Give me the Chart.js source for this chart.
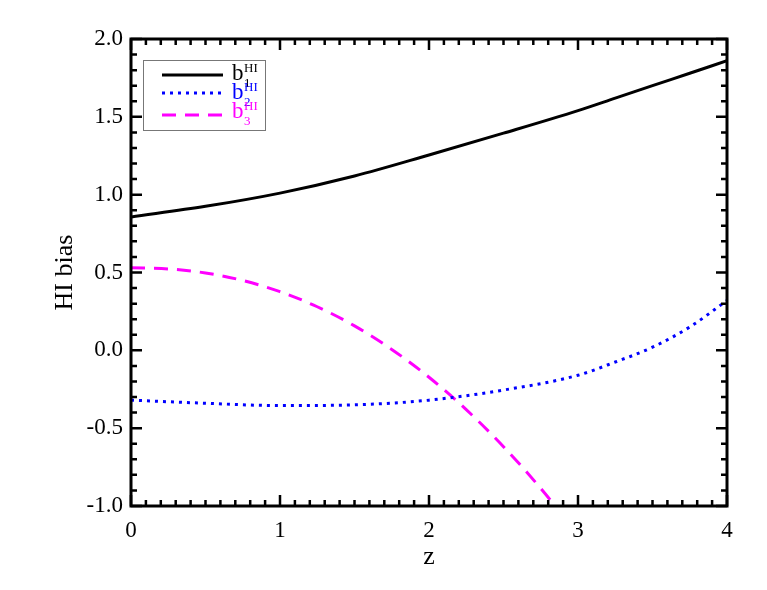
<!DOCTYPE html>
<html lang="en">
<head>
  <meta charset="UTF-8">
  <title>HI bias</title>
  <script src="https://cdn.jsdelivr.net/npm/chart.js@4.4.1/dist/chart.umd.min.js"></script>
  <style>
    html, body { margin: 0; padding: 0; background: #fff; }
    #chart { display: block; }
  </style>
</head>
<body>
  <canvas id="chart" width="767" height="590"></canvas>
<script>
  // values
  const zMain = [0, 0.5, 1, 1.5, 2, 2.5, 3, 3.25, 3.5, 3.75, 4];
  const b1 = [0.857, 0.925, 1.01, 1.12, 1.255, 1.395, 1.54, 1.62, 1.70, 1.78, 1.86];
  const b2 = [-0.32, -0.34, -0.355, -0.35, -0.32, -0.255, -0.16, -0.075, 0.02, 0.15, 0.32];
  const zB3 = [0, 0.25, 0.5, 0.75, 1, 1.25, 1.5, 1.75, 2, 2.25, 2.5, 2.75, 3];
  const b3 = [0.53, 0.523, 0.497, 0.449, 0.377, 0.28, 0.157, 0.006, -0.173, -0.381, -0.619, -0.887, -1.185];
  const xTickLabels = ['0', '1', '2', '3', '4'];
  const yTickLabels = ['-1.0', '-0.5', '0.0', '0.5', '1.0', '1.5', '2.0'];

  const serif = "'Liberation Serif', 'DejaVu Serif', serif";

  function toPoints(xs, ys) {
    return xs.map((x, i) => ({ x: x, y: ys[i] }));
  }

  // box frame with inward ticks on all four sides
  const frameTicks = {
    id: 'frameTicks',
    afterDatasetsDraw(chart) {
      const { ctx, chartArea: a, scales: { x, y } } = chart;
      ctx.save();
      ctx.strokeStyle = '#000';
      ctx.lineWidth = 2.5;
      ctx.beginPath();
      for (let i = 0; i <= 40; i++) {
        const px = x.getPixelForValue(i / 10);
        const len = i % 10 === 0 ? 11 : 6;
        ctx.moveTo(px, a.bottom); ctx.lineTo(px, a.bottom - len);
        ctx.moveTo(px, a.top); ctx.lineTo(px, a.top + len);
      }
      for (let i = -10; i <= 20; i++) {
        const py = y.getPixelForValue(i / 10);
        const len = i % 5 === 0 ? 11 : 6;
        ctx.moveTo(a.left, py); ctx.lineTo(a.left + len, py);
        ctx.moveTo(a.right, py); ctx.lineTo(a.right - len, py);
      }
      ctx.stroke();
      ctx.lineWidth = 3;
      ctx.strokeRect(a.left, a.top, a.right - a.left, a.bottom - a.top);
      ctx.restore();
    }
  };

  // legend with b_n^HI labels
  const biasLegend = {
    id: 'biasLegend',
    afterDraw(chart) {
      const ctx = chart.ctx;
      ctx.save();
      ctx.strokeStyle = '#777';
      ctx.lineWidth = 1;
      ctx.strokeRect(143.5, 60.5, 122, 70);
      const rows = [
        { ds: chart.data.datasets[0], ly: 75, ty: 80, sub: '1' },
        { ds: chart.data.datasets[1], ly: 93, ty: 99, sub: '2' },
        { ds: chart.data.datasets[2], ly: 115, ty: 118, sub: '3' }
      ];
      rows.forEach(r => {
        ctx.strokeStyle = r.ds.borderColor;
        ctx.lineWidth = r.ds.borderWidth;
        ctx.setLineDash(r.ds.borderDash || []);
        ctx.beginPath();
        ctx.moveTo(162, r.ly); ctx.lineTo(223, r.ly);
        ctx.stroke();
        ctx.setLineDash([]);
        ctx.fillStyle = r.ds.borderColor;
        ctx.textBaseline = 'alphabetic';
        ctx.textAlign = 'left';
        ctx.font = '23px ' + serif;
        ctx.fillText('b', 232, r.ty);
        ctx.font = '13px ' + serif;
        ctx.fillText('HI', 244, r.ty - 8);
        ctx.fillText(r.sub, 244, r.ty + 7);
      });
      ctx.restore();
    }
  };

  const config = {
    type: 'line',
    data: {
      datasets: [{
        label: 'b1',
        data: toPoints(zMain, b1),
        borderColor: '#000000',
        borderWidth: 3,
        pointRadius: 0,
        cubicInterpolationMode: 'monotone',
        clip: 0
      }, {
        label: 'b2',
        data: toPoints(zMain, b2),
        borderColor: '#0000ff',
        borderWidth: 3,
        borderDash: [3, 5],
        pointRadius: 0,
        cubicInterpolationMode: 'monotone',
        clip: 0
      }, {
        label: 'b3',
        data: toPoints(zB3, b3),
        borderColor: '#ff00ff',
        borderWidth: 3,
        borderDash: [14, 9],
        pointRadius: 0,
        cubicInterpolationMode: 'monotone',
        clip: 0
      }]
    },
    options: {
      responsive: false,
      animation: false,
      layout: { padding: { left: 0, right: 40, top: 39, bottom: 0 } },
      plugins: {
        legend: { display: false },
        tooltip: { enabled: false }
      },
      scales: {
        x: {
          type: 'linear',
          min: 0,
          max: 4,
          grid: { display: false, drawTicks: false },
          border: { display: false },
          afterFit: s => { s.height = 84; },
          ticks: {
            stepSize: 1,
            padding: 11,
            color: '#000',
            font: { family: serif, size: 23 },
            callback: (v) => xTickLabels[v] !== undefined && Number.isInteger(v) ? xTickLabels[v] : ''
          },
          title: {
            display: true,
            text: 'z',
            color: '#000',
            font: { family: serif, size: 26 },
            padding: { top: 0, bottom: 17 }
          }
        },
        y: {
          type: 'linear',
          min: -1,
          max: 2,
          grid: { display: false, drawTicks: false },
          border: { display: false },
          afterFit: s => { s.width = 131; },
          ticks: {
            stepSize: 0.5,
            padding: 8,
            color: '#000',
            font: { family: serif, size: 23 },
            callback: (v) => yTickLabels[Math.round((v + 1) * 2)]
          },
          title: {
            display: true,
            text: 'HI bias',
            color: '#000',
            font: { family: serif, size: 26 },
            padding: { top: 50, bottom: 0 }
          }
        }
      }
    },
    plugins: [frameTicks, biasLegend]
  };

  new Chart(document.getElementById('chart').getContext('2d'), config);
</script>
</body>
</html>
